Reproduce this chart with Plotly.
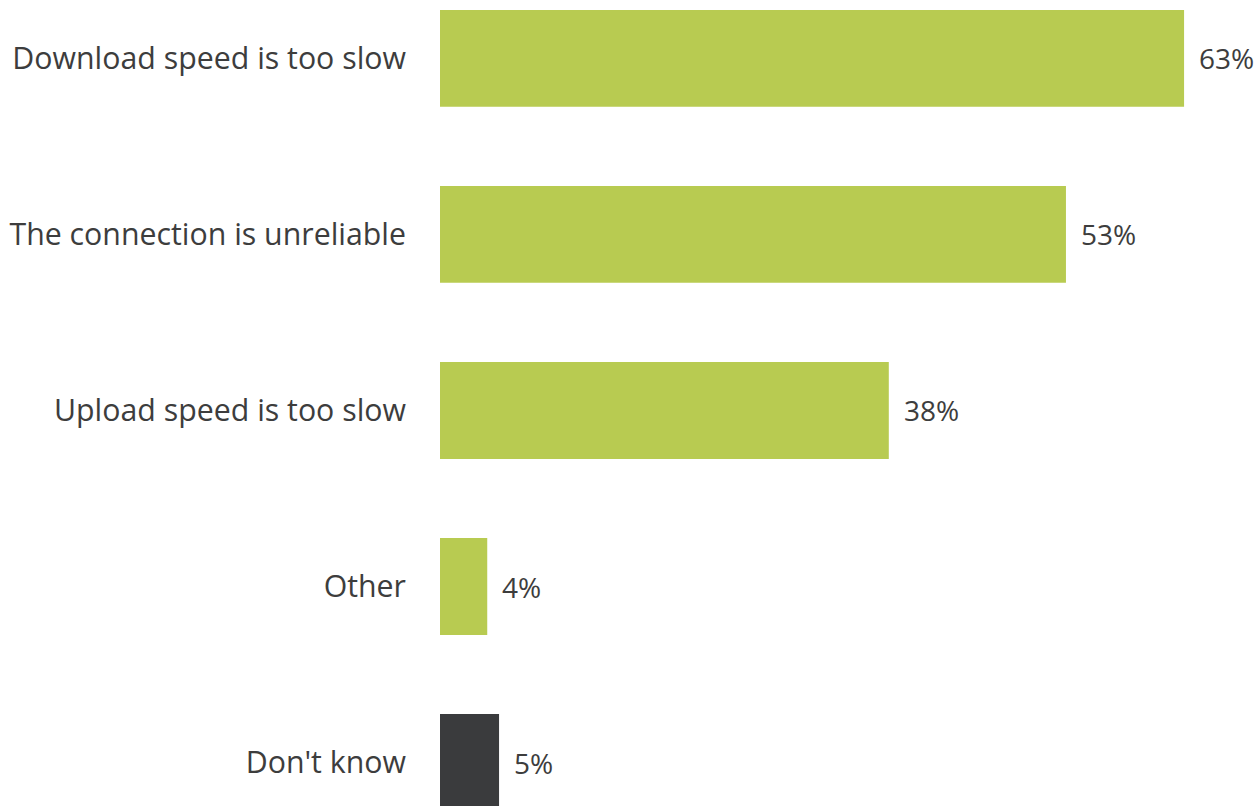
import plotly.graph_objects as go

categories = [
    "Download speed is too slow",
    "The connection is unreliable",
    "Upload speed is too slow",
    "Other",
    "Don't know",
]
values = [63, 53, 38, 4, 5]
colors = ["#b8cb51", "#b8cb51", "#b8cb51", "#b8cb51", "#3a3b3d"]

positions = list(range(len(categories)))
text_color = "#3d3d3d"

fig = go.Figure(
    go.Bar(
        x=values,
        y=positions,
        orientation="h",
        marker=dict(color=colors, line=dict(width=0)),
        width=0.55,
        hoverinfo="skip",
    )
)

# Percentage labels just to the right of each bar
for pos, val in zip(positions, values):
    fig.add_annotation(
        x=val,
        y=pos,
        xref="x",
        yref="y",
        text=f"{val}%",
        showarrow=False,
        xanchor="left",
        yanchor="middle",
        xshift=13,
        font=dict(family="Open Sans", size=28, color=text_color),
    )

fig.update_layout(
    width=1258,
    height=806,
    margin=dict(l=440, r=0, t=0, b=0),
    paper_bgcolor="white",
    plot_bgcolor="white",
    showlegend=False,
)

fig.update_xaxes(
    range=[0, 69.26],
    showgrid=False,
    zeroline=False,
    showticklabels=False,
    showline=False,
)

fig.update_yaxes(
    tickmode="array",
    tickvals=positions,
    ticktext=categories,
    range=[4.247, -0.332],
    showgrid=False,
    zeroline=False,
    showline=False,
    ticks="",
    ticklabelstandoff=33,
    tickfont=dict(family="Open Sans", size=30.3, color=text_color),
)

fig.write_html("out.html")
